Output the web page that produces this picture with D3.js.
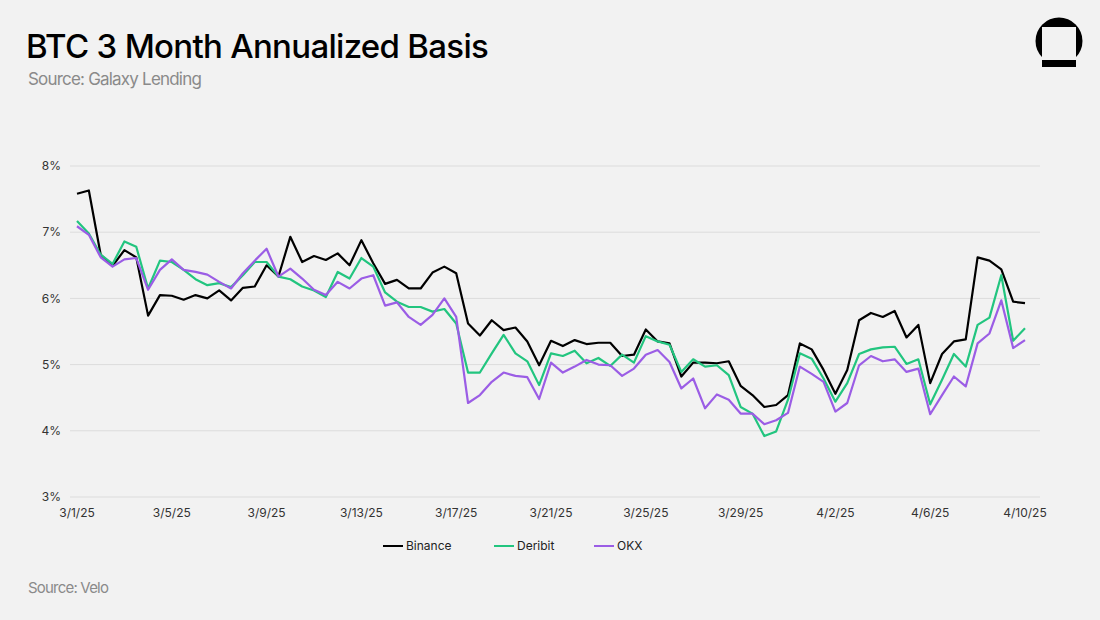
<!DOCTYPE html>
<html>
<head>
<meta charset="UTF-8">
<script src="https://d3js.org/d3.v7.min.js"></script>
<style>
    body { margin: 0; background: #f2f2f2; font-family: Inter, "Noto Sans", sans-serif; }
    svg { display: block; }
    .title { font-size: 33px; font-weight: 500; letter-spacing: -0.7px; fill: #000; }
    .subtitle { font-size: 17px; letter-spacing: -0.8px; fill: #8a8a8a; }
    .footer { font-size: 15px; letter-spacing: -0.8px; fill: #8a8a8a; }
    .tick-label { font-size: 12px; fill: #333; }
    .grid line { stroke: #dcdcdc; stroke-width: 1px; }
    .series { fill: none; stroke-width: 2.2px; stroke-linejoin: round; }
    .legend text { font-size: 12px; fill: #222; }
</style>
</head>
<body>
<svg width="1100" height="620"></svg>
<script>
    // 12-hourly observations from 3/1/25 00:00 to 4/10/25 00:00
    const binance = [7.58, 7.63, 6.66, 6.49, 6.73, 6.62, 5.74, 6.05, 6.04, 5.98,
        6.05, 6.00, 6.12, 5.97, 6.16, 6.18, 6.50, 6.33, 6.93, 6.55,
        6.64, 6.58, 6.68, 6.50, 6.88, 6.53, 6.22, 6.28, 6.15, 6.15,
        6.39, 6.48, 6.38, 5.62, 5.44, 5.67, 5.52, 5.56, 5.35, 4.99,
        5.36, 5.28, 5.37, 5.31, 5.33, 5.33, 5.13, 5.15, 5.53, 5.35,
        5.32, 4.82, 5.03, 5.03, 5.02, 5.05, 4.68, 4.54, 4.36, 4.39,
        4.54, 5.32, 5.23, 4.92, 4.56, 4.92, 5.67, 5.78, 5.72, 5.81,
        5.41, 5.60, 4.72, 5.16, 5.35, 5.38, 6.62, 6.57, 6.44, 5.95, 5.93];
    const deribit = [7.17, 6.98, 6.66, 6.52, 6.86, 6.78, 6.15, 6.57, 6.55, 6.43,
        6.29, 6.20, 6.23, 6.17, 6.35, 6.55, 6.55, 6.33, 6.29, 6.18,
        6.12, 6.02, 6.40, 6.30, 6.61, 6.48, 6.09, 5.95, 5.87, 5.87,
        5.80, 5.84, 5.62, 4.88, 4.88, 5.17, 5.45, 5.17, 5.05, 4.69,
        5.17, 5.13, 5.21, 5.02, 5.10, 4.98, 5.15, 5.03, 5.43, 5.35,
        5.30, 4.89, 5.08, 4.97, 4.99, 4.84, 4.36, 4.26, 3.92, 3.99,
        4.47, 5.17, 5.09, 4.79, 4.44, 4.72, 5.16, 5.23, 5.26, 5.27,
        5.01, 5.08, 4.40, 4.77, 5.16, 4.97, 5.60, 5.71, 6.35, 5.36, 5.55];
    const okx = [7.09, 6.96, 6.62, 6.48, 6.59, 6.61, 6.13, 6.43, 6.59, 6.43,
        6.40, 6.36, 6.25, 6.15, 6.38, 6.57, 6.75, 6.33, 6.45, 6.30,
        6.13, 6.05, 6.25, 6.15, 6.30, 6.35, 5.89, 5.94, 5.72, 5.60,
        5.75, 6.00, 5.72, 4.42, 4.54, 4.74, 4.88, 4.83, 4.81, 4.48,
        5.03, 4.88, 4.97, 5.07, 5.00, 4.99, 4.83, 4.94, 5.15, 5.22,
        5.04, 4.64, 4.79, 4.34, 4.55, 4.47, 4.26, 4.26, 4.10, 4.16,
        4.27, 4.97, 4.86, 4.74, 4.29, 4.42, 4.99, 5.13, 5.05, 5.08,
        4.89, 4.94, 4.25, 4.54, 4.82, 4.67, 5.32, 5.47, 5.97, 5.25, 5.37];

    const seriesNames = ["Binance", "Deribit", "OKX"];
    const seriesColors = ["#000000", "#22c57f", "#9b5de5"];
    const yTicks = [3, 4, 5, 6, 7, 8];
    const xLabels = ["3/1/25", "3/5/25", "3/9/25", "3/13/25", "3/17/25", "3/21/25",
        "3/25/25", "3/29/25", "4/2/25", "4/6/25", "4/10/25"];

    const start = new Date(2025, 2, 1);
    const dates = binance.map((d, i) => new Date(start.getTime() + i * 12 * 3600 * 1000));

    const svg = d3.select("svg");

    // Header
    svg.append("text").attr("class", "title").attr("x", 26).attr("y", 58)
        .text("BTC 3 Month Annualized Basis");
    svg.append("text").attr("class", "subtitle").attr("x", 28).attr("y", 85)
        .text("Source: Galaxy Lending");
    svg.append("text").attr("class", "footer").attr("x", 28).attr("y", 593)
        .text("Source: Velo");

    // Logo
    const logo = svg.append("g");
    logo.append("circle").attr("cx", 1059).attr("cy", 41).attr("r", 23.5).attr("fill", "#000");
    logo.append("rect").attr("x", 1042).attr("y", 27).attr("width", 34).attr("height", 33).attr("fill", "#f2f2f2");
    logo.append("rect").attr("x", 1042).attr("y", 60).attr("width", 34).attr("height", 7).attr("fill", "#000");

    const x = d3.scaleTime()
        .domain([dates[0], dates[dates.length - 1]])
        .range([77, 1025]);

    const y = d3.scaleLinear()
        .domain([3, 8])
        .range([497, 166]);

    // Grid + y labels
    const grid = svg.append("g").attr("class", "grid");
    grid.selectAll("line")
        .data(yTicks)
        .join("line")
            .attr("x1", 70)
            .attr("x2", 1040)
            .attr("y1", d => y(d))
            .attr("y2", d => y(d));

    svg.append("g")
        .selectAll("text")
        .data(yTicks)
        .join("text")
            .attr("class", "tick-label")
            .attr("x", 61)
            .attr("y", d => y(d))
            .attr("dy", "0.35em")
            .attr("text-anchor", "end")
            .text(d => d + "%");

    // x labels, every 4 days
    svg.append("g")
        .selectAll("text")
        .data(xLabels)
        .join("text")
            .attr("class", "tick-label")
            .attr("x", (d, i) => x(dates[i * 8]))
            .attr("y", 517)
            .attr("text-anchor", "middle")
            .text(d => d);

    // Lines
    const line = d3.line()
        .x((d, i) => x(dates[i]))
        .y(d => y(d));

    const allSeries = [binance, deribit, okx];
    svg.append("g")
        .selectAll("path")
        .data(allSeries)
        .join("path")
            .attr("class", "series")
            .attr("stroke", (d, i) => seriesColors[i])
            .attr("d", line);

    // Legend
    const legendX = [383, 494, 594];
    const legend = svg.append("g").attr("class", "legend")
        .selectAll("g")
        .data(seriesNames)
        .join("g")
            .attr("transform", (d, i) => `translate(${legendX[i]}, 546)`);

    legend.append("line")
        .attr("x1", 0).attr("x2", 20)
        .attr("stroke", (d, i) => seriesColors[i])
        .attr("stroke-width", 2);

    legend.append("text")
        .attr("x", 23)
        .attr("dy", "0.35em")
        .text(d => d);
</script>
</body>
</html>
